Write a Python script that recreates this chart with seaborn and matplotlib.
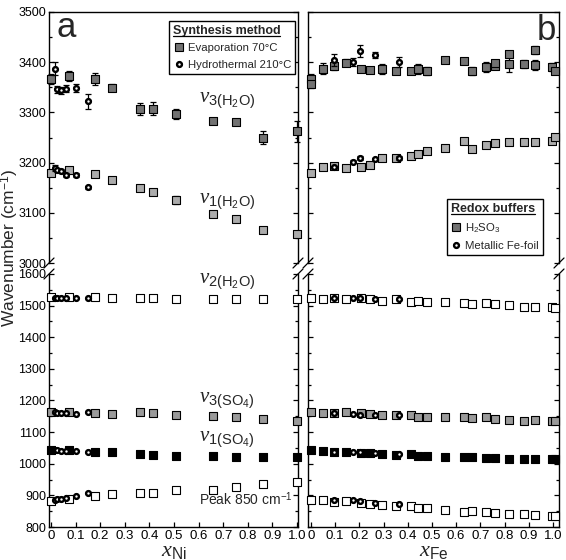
import matplotlib
matplotlib.use('Agg')
import matplotlib.pyplot as plt
import seaborn as sns
from matplotlib.lines import Line2D
from matplotlib.ticker import MultipleLocator

# ---- panel a : x_Ni, synthesis method ----
x_ni_evap = [0.0, 0.073, 0.18, 0.25, 0.36, 0.416, 0.507, 0.66, 0.752, 0.862, 1.0]
x_ni_hydro = [0.015, 0.025, 0.04, 0.06, 0.10, 0.152]

ni_evap_v3h2o = [3367, 3373, 3366, 3349, 3306, 3307, 3296, 3283, 3280, 3250, 3262]
ni_evap_v3h2o_err = [10, 10, 12, 7, 12, 13, 10, 4, 3, 13, 21]
ni_hydro_v3h2o = [3387, 3346, 3344, 3347, 3348, 3322]
ni_hydro_v3h2o_err = [13, 7, 7, 7, 8, 15]
ni_evap_v1h2o = [3180, 3186, 3177, 3166, 3149, 3141, 3126, 3098, 3087, 3066, 3057]
ni_evap_v1h2o_err = [3, 3, 3, 3, 3, 3, 8, 5, 2, 2, 2]
ni_hydro_v1h2o = [3190, 3186, 3183, 3175, 3175, 3151]
ni_hydro_v1h2o_err = [6, 4, 4, 4, 4, 3]

ni_evap_v2h2o = [1526, 1526, 1528, 1525, 1524, 1524, 1522, 1522, 1522, 1522, 1522]
ni_hydro_v2h2o = [1525, 1524, 1524, 1524, 1523, 1524]
ni_evap_v3so4 = [1165, 1165, 1162, 1156, 1164, 1162, 1153, 1150, 1148, 1141, 1136]
ni_hydro_v3so4 = [1163, 1162, 1162, 1162, 1158, 1164]
ni_evap_v1so4 = [1045, 1042, 1038, 1038, 1031, 1029, 1025, 1025, 1021, 1020, 1020]
ni_hydro_v1so4 = [1043, 1042, 1041, 1041, 1041, 1036]
ni_evap_p850 = [883, 890, 898, 903, 908, 908, 917, 918, 927, 935, 942]
ni_hydro_p850 = [886, 889, 890, 891, 899, 906]

# ---- panel b : x_Fe, redox buffers ----
x_fe_h2so3 = [0.0, 0.051, 0.095, 0.143, 0.207, 0.245, 0.292, 0.351, 0.413, 0.441, 0.479,
              0.555, 0.633, 0.667, 0.723, 0.76, 0.818, 0.88, 0.927, 0.996, 1.008]
x_fe_foil = [0.094, 0.172, 0.202, 0.263, 0.365]

fe_h2so3_v3h2o = [3367, 3387, 3392, 3399, 3386, 3385, 3386, 3383, 3383, 3387, 3383,
                  3404, 3402, 3383, 3391, 3393, 3396, 3396, 3395, 3391, 3383]
fe_h2so3_v3h2o_err = [10, 11, 8, 7, 3, 3, 10, 5, 5, 10, 8, 3, 6, 8, 10, 6, 15, 8, 10, 8, 3]
x_fe_h2so3_extra = [0.0, 0.76, 0.818, 0.927]
fe_h2so3_v3h2o_extra = [3356, 3399, 3417, 3424]
fe_h2so3_v3h2o_extra_err = [8, 5, 5, 8]
fe_foil_v3h2o = [3405, 3401, 3423, 3415, 3401]
fe_foil_v3h2o_err = [12, 8, 12, 6, 10]

fe_h2so3_v1h2o = [3179, 3191, 3194, 3189, 3191, 3196, 3209, 3209, 3213, 3217, 3223,
                  3229, 3244, 3228, 3235, 3239, 3241, 3241, 3242, 3243, 3251]
fe_h2so3_v1h2o_err = [4, 2, 4, 2, 2, 2, 2, 2, 2, 2, 2, 2, 2, 2, 2, 3, 3, 2, 5, 3, 3]
fe_foil_v1h2o = [3191, 3202, 3209, 3207, 3209]
fe_foil_v1h2o_err = [3, 3, 4, 3, 4]

fe_h2so3_v2h2o = [1524, 1522, 1524, 1522, 1524, 1522, 1515, 1522, 1513, 1514, 1511,
                  1511, 1509, 1504, 1507, 1506, 1503, 1497, 1497, 1496, 1494]
fe_h2so3_v3so4 = [1165, 1159, 1162, 1164, 1159, 1157, 1154, 1153, 1153, 1149, 1149,
                  1147, 1147, 1145, 1147, 1143, 1138, 1136, 1137, 1135, 1135]
fe_h2so3_v1so4 = [1043, 1041, 1037, 1037, 1033, 1033, 1030, 1029, 1030, 1025, 1025,
                  1020, 1020, 1020, 1019, 1018, 1015, 1016, 1015, 1015, 1015]
fe_h2so3_p850 = [886, 886, 880, 881, 877, 874, 871, 866, 866, 861, 861,
                 854, 848, 851, 849, 845, 842, 840, 838, 834, 834]
fe_foil_v2h2o = [1523, 1524, 1523, 1522, 1522]
fe_foil_v3so4 = [1160, 1156, 1154, 1154, 1154]
fe_foil_v1so4 = [1037, 1036, 1038, 1034, 1030]
fe_foil_p850 = [884, 885, 881, 875, 873]

x_ticks = [0, 0.1, 0.2, 0.3, 0.4, 0.5, 0.6, 0.7, 0.8, 0.9, 1.0]
x_ticklabels = ['0', '0.1', '0.2', '0.3', '0.4', '0.5', '0.6', '0.7', '0.8', '0.9', '1.0']

DARK = '#727272'
LIGHT = '#ababab'
MID = '#9a9a9a'

sns.set_style('ticks')
plt.rcParams['font.family'] = ['Liberation Sans', 'DejaVu Sans']
plt.rcParams['mathtext.fontset'] = 'custom'
plt.rcParams['mathtext.rm'] = 'Liberation Sans'
plt.rcParams['mathtext.sf'] = 'Liberation Sans'
plt.rcParams['mathtext.it'] = 'Liberation Serif:italic'
plt.rcParams['mathtext.bf'] = 'Liberation Sans:bold'
plt.rcParams['axes.edgecolor'] = 'black'
plt.rcParams['axes.linewidth'] = 1.0
plt.rcParams['xtick.color'] = 'black'
plt.rcParams['ytick.color'] = 'black'


def squares(ax, x, y, fc, yerr=None):
    if yerr is not None:
        ax.errorbar(x, y, yerr=yerr, fmt='none', ecolor='black', elinewidth=0.9,
                    capsize=2.5, capthick=0.9, zorder=2, clip_on=False)
    sns.scatterplot(x=x, y=y, marker='s', s=36, color=fc, edgecolor='black',
                    linewidth=0.8, ax=ax, zorder=3, legend=False, clip_on=False)


def circles(ax, x, y, yerr=None):
    if yerr is not None:
        ax.errorbar(x, y, yerr=yerr, fmt='none', ecolor='black', elinewidth=0.9,
                    capsize=2.5, capthick=0.9, zorder=4, clip_on=False)
    sns.scatterplot(x=x, y=y, marker='o', s=12, color='white', edgecolor='black',
                    linewidth=1.7, ax=ax, zorder=5, legend=False, clip_on=False)


W, H = 566, 560


def rect(l, r, t, b):
    return [l / W, 1 - b / H, (r - l) / W, (b - t) / H]


fig = plt.figure(figsize=(5.66, 5.6), dpi=100)
ax_at = fig.add_axes(rect(49, 298, 12, 263))
ax_ab = fig.add_axes(rect(49, 298, 274, 527))
ax_bt = fig.add_axes(rect(308, 559, 12, 263))
ax_bb = fig.add_axes(rect(308, 559, 274, 527))

# panel a top
squares(ax_at, x_ni_evap, ni_evap_v3h2o, DARK, ni_evap_v3h2o_err)
squares(ax_at, x_ni_evap, ni_evap_v1h2o, LIGHT, ni_evap_v1h2o_err)
circles(ax_at, x_ni_hydro, ni_hydro_v3h2o, ni_hydro_v3h2o_err)
circles(ax_at, x_ni_hydro, ni_hydro_v1h2o, ni_hydro_v1h2o_err)
# panel a bottom
squares(ax_ab, x_ni_evap, ni_evap_v2h2o, 'white')
squares(ax_ab, x_ni_evap, ni_evap_v3so4, MID)
squares(ax_ab, x_ni_evap, ni_evap_v1so4, 'black')
squares(ax_ab, x_ni_evap, ni_evap_p850, 'white')
for vals in [ni_hydro_v2h2o, ni_hydro_v3so4, ni_hydro_v1so4, ni_hydro_p850]:
    circles(ax_ab, x_ni_hydro, vals)

# panel b top
squares(ax_bt, x_fe_h2so3, fe_h2so3_v3h2o, DARK, fe_h2so3_v3h2o_err)
squares(ax_bt, x_fe_h2so3_extra, fe_h2so3_v3h2o_extra, DARK, fe_h2so3_v3h2o_extra_err)
squares(ax_bt, x_fe_h2so3, fe_h2so3_v1h2o, LIGHT, fe_h2so3_v1h2o_err)
circles(ax_bt, x_fe_foil, fe_foil_v3h2o, fe_foil_v3h2o_err)
circles(ax_bt, x_fe_foil, fe_foil_v1h2o, fe_foil_v1h2o_err)
# panel b bottom
squares(ax_bb, x_fe_h2so3, fe_h2so3_v2h2o, 'white')
squares(ax_bb, x_fe_h2so3, fe_h2so3_v3so4, MID)
squares(ax_bb, x_fe_h2so3, fe_h2so3_v1so4, 'black')
squares(ax_bb, x_fe_h2so3, fe_h2so3_p850, 'white')
for vals in [fe_foil_v2h2o, fe_foil_v3so4, fe_foil_v1so4, fe_foil_p850]:
    circles(ax_bb, x_fe_foil, vals)

for ax in [ax_at, ax_ab]:
    ax.set_xlim(-0.008, 1.004)
for ax in [ax_bt, ax_bb]:
    ax.set_xlim(-0.012, 1.025)
for ax in [ax_at, ax_bt]:
    ax.set_ylim(3000, 3500)
for ax in [ax_ab, ax_bb]:
    ax.set_ylim(800, 1600)

for ax in [ax_at, ax_ab, ax_bt, ax_bb]:
    ax.set_xlabel('')
    ax.set_ylabel('')
    ax.yaxis.set_major_locator(MultipleLocator(100))
    ax.yaxis.set_minor_locator(MultipleLocator(50))
    ax.tick_params(which='both', direction='in', left=True, right=True,
                   width=0.9, pad=2)
    ax.tick_params(axis='y', labelsize=9)
    ax.tick_params(axis='x', labelsize=9.5, pad=2)
    ax.tick_params(which='major', length=3.5)
    ax.tick_params(which='minor', length=2)
    for s in ax.spines.values():
        s.set_visible(True)
        s.set_color('black')

for ax in [ax_at, ax_bt]:
    ax.spines['bottom'].set_visible(False)
    ax.tick_params(axis='x', which='both', bottom=False, top=False, labelbottom=False)
for ax in [ax_ab, ax_bb]:
    ax.spines['top'].set_visible(False)
    ax.set_xticks(x_ticks)
    ax.set_xticklabels(x_ticklabels)
    ax.tick_params(axis='x', which='both', top=False, bottom=True)
for ax in [ax_bt, ax_bb]:
    ax.tick_params(axis='y', labelleft=False)

ax_ab.set_xlabel(r'$x_{\mathrm{Ni}}$', fontsize=16, labelpad=-1)
ax_bb.set_xlabel(r'$x_{\mathrm{Fe}}$', fontsize=16, labelpad=-1)

# axis break marks
for ax, yb in [(ax_at, 0), (ax_bt, 0), (ax_ab, 1), (ax_bb, 1)]:
    bb = ax.get_position()
    dx = 5 / (bb.width * W)
    dy = 5 / (bb.height * H)
    for xb in [0, 1]:
        ax.plot([xb - dx, xb + dx], [yb - dy, yb + dy], transform=ax.transAxes,
                color='black', lw=0.9, clip_on=False)

# panel letters
ax_at.text(0.032, 0.9, 'a', transform=ax_at.transAxes, fontsize=25, ha='left', va='baseline')
ax_bt.text(0.99, 0.89, 'b', transform=ax_bt.transAxes, fontsize=25, ha='right', va='baseline')

# band labels
ax_at.text(0.6, 3322, r'$\nu_{\mathrm{3(H_2O)}}$', fontsize=15, va='center')
ax_at.text(0.6, 3122, r'$\nu_{\mathrm{1(H_2O)}}$', fontsize=15, va='center')
ax_ab.text(0.6, 1575, r'$\nu_{\mathrm{2(H_2O)}}$', fontsize=15, va='center')
ax_ab.text(0.6, 1198, r'$\nu_{\mathrm{3(SO_4)}}$', fontsize=15, va='center')
ax_ab.text(0.6, 1075, r'$\nu_{\mathrm{1(SO_4)}}$', fontsize=15, va='center')
ax_ab.text(0.6, 889, r'Peak 850 cm$^{\mathrm{-1}}$', fontsize=10, va='center')

fig.text(0.017, 0.557, r'Wavenumber (cm$^{\mathrm{-1}}$)', rotation=90,
         ha='center', va='center', fontsize=12.5)

# legends
h_sq = Line2D([], [], marker='s', ls='none', markersize=6, markerfacecolor=DARK,
              markeredgecolor='black', markeredgewidth=0.8)
h_ci = Line2D([], [], marker='o', ls='none', markersize=3.5, markerfacecolor='white',
              markeredgecolor='black', markeredgewidth=1.7)
leg_kw = dict(frameon=True, fancybox=False, edgecolor='black', framealpha=1,
              fontsize=8.2, title_fontproperties={'weight': 'bold', 'size': 9},
              handletextpad=0.3, handlelength=1.0, borderpad=0.35,
              labelspacing=0.55, alignment='left', borderaxespad=0)
leg_a = ax_at.legend([h_sq, h_ci], ['Evaporation 70°C', 'Hydrothermal 210°C'],
                     title='Synthesis method', loc='upper right',
                     bbox_to_anchor=(0.988, 0.964), **leg_kw)
leg_b = ax_bt.legend([h_sq, h_ci], [r'H$_{\mathrm{2}}$SO$_{\mathrm{3}}$', 'Metallic Fe-foil'],
                     title='Redox buffers', loc='lower right',
                     bbox_to_anchor=(0.936, 0.032), **leg_kw)
for leg in [leg_a, leg_b]:
    leg.get_frame().set_linewidth(1.0)

# underline the legend titles
fig.canvas.draw()
renderer = fig.canvas.get_renderer()
inv = fig.transFigure.inverted()
for leg in [leg_a, leg_b]:
    tb = leg.get_title().get_window_extent(renderer)
    (x0, y0), (x1, _) = inv.transform([(tb.x0, tb.y0 + 1), (tb.x1, tb.y0 + 1)])
    fig.add_artist(Line2D([x0, x1], [y0, y0], transform=fig.transFigure,
                          color='black', lw=0.9))

fig.savefig('out.png', dpi=100)
